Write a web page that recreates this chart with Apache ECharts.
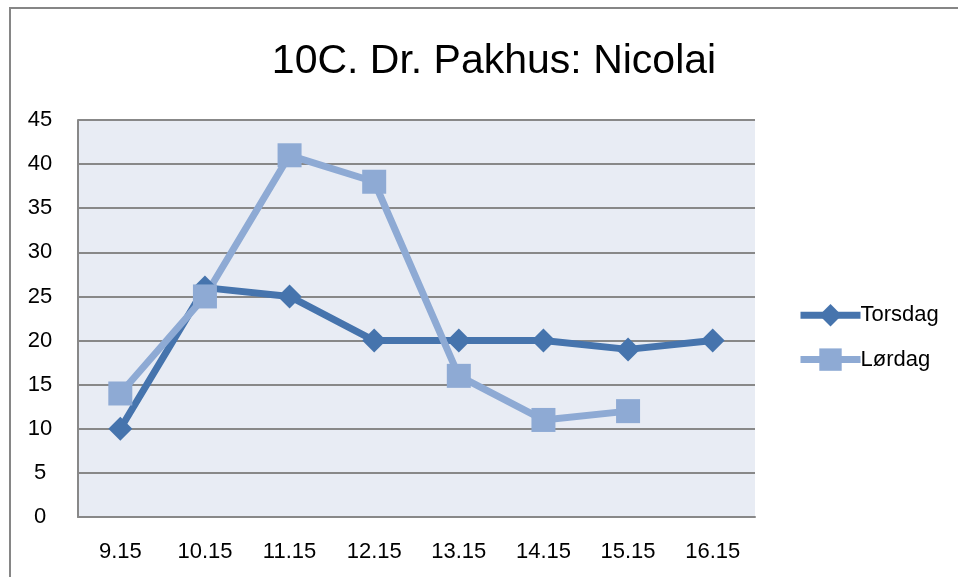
<!DOCTYPE html>
<html>
<head>
<meta charset="utf-8">
<script src="https://cdn.jsdelivr.net/npm/echarts@6/dist/echarts.min.js"></script>
<style>
  html, body { margin: 0; padding: 0; background: #fff; }
  #frame {
    position: absolute; left: 9px; top: 7px; width: 960px; height: 600px;
    border-left: 2px solid #868686; border-top: 2px solid #868686;
  }
  #chart { position: absolute; left: 0; top: 0; width: 958px; height: 577px; }
</style>
</head>
<body>
<div id="frame"></div>
<div id="chart"></div>
<script>
const categories = ["9.15", "10.15", "11.15", "12.15", "13.15", "14.15", "15.15", "16.15"];
const torsdag = [10, 26, 25, 20, 20, 20, 19, 20];
const lordag = [14, 25, 41, 38, 16, 11, 12, null];
const colors = ["#4674ad", "#8eaad4", "#e8ecf4", "#888888"];
const font = "Liberation Sans";

const myChart = echarts.init(document.getElementById("chart"));
myChart.setOption({
  animation: false,
  title: {
    text: "10C. Dr. Pakhus: Nicolai",
    left: 489,
    textAlign: "center",
    top: 36,
    textStyle: { fontFamily: font, fontSize: 41, fontWeight: "normal", color: "#000" },
  },
  legend: {
    orient: "vertical",
    left: 792,
    top: 299,
    itemWidth: 60,
    itemHeight: 28,
    itemGap: 22,
    lineStyle: { width: 7 },
    textStyle: { fontFamily: font, fontSize: 22, color: "#000", padding: [0, 0, 0, -5] },
    data: ["Torsdag", "Lørdag"],
  },
  grid: {
    left: 78,
    right: 203,
    top: 120,
    bottom: 60,
    show: true,
    backgroundColor: colors[2],
    borderWidth: 0,
  },
  xAxis: {
    type: "category",
    data: categories,
    boundaryGap: true,
    axisTick: { show: false },
    axisLine: { lineStyle: { color: colors[3], width: 2 } },
    axisLabel: { fontFamily: font, fontSize: 22, color: "#000", margin: 24 },
  },
  yAxis: {
    type: "value",
    min: 0,
    max: 45,
    interval: 5,
    axisLine: { show: true, lineStyle: { color: colors[3], width: 2 } },
    axisTick: { show: false },
    axisLabel: { fontFamily: font, fontSize: 22, color: "#000", margin: 38, align: "center" },
    splitLine: { lineStyle: { color: colors[3], width: 2 } },
  },
  series: [
    {
      name: "Torsdag",
      type: "line",
      data: torsdag,
      symbol: "diamond",
      symbolSize: 24,
      lineStyle: { color: colors[0], width: 7 },
      itemStyle: { color: colors[0] },
    },
    {
      name: "Lørdag",
      type: "line",
      data: lordag,
      symbol: "rect",
      symbolSize: 24,
      lineStyle: { color: colors[1], width: 7 },
      itemStyle: { color: colors[1] },
    },
  ],
});
</script>
</body>
</html>
